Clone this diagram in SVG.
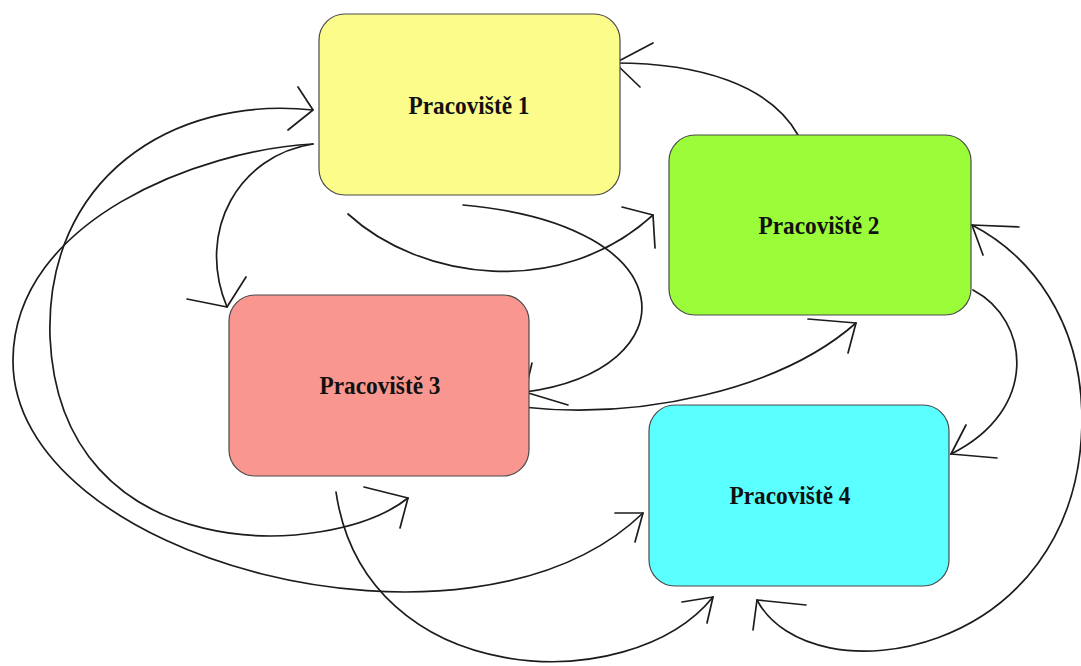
<svg xmlns="http://www.w3.org/2000/svg" width="1081" height="666" viewBox="0 0 1081 666">
  <style>
    .box { stroke: #4a4a4a; stroke-width: 1.2; }
    .label { font-family: "Liberation Serif", "Times New Roman", serif; font-weight: bold; font-size: 25px; fill: #111; text-anchor: middle; }
    .edge { fill: none; stroke: #1c1c1c; stroke-width: 1.7; stroke-linecap: round; stroke-linejoin: round; }
  </style>
  <rect width="1081" height="666" fill="#ffffff"/>

  <g id="connectors">
    <!-- Pracoviště 2 -> Pracoviště 1 -->
    <path class="edge" d="M798,135 C770,85 700,63 615,63"/>
    <polyline class="edge" points="653,43 615,63 640,87"/>

    <!-- Pracoviště 1 -> Pracoviště 2 -->
    <path class="edge" d="M348,214 C420,280 560,300 653,215"/>
    <polyline class="edge" points="622,207 653,215 655,248"/>

    <!-- Pracoviště 1 -> Pracoviště 3 (right side) -->
    <path class="edge" d="M463,205 C690,225 690,370 525,392"/>
    <polyline class="edge" points="532,363 525,392 568,405"/>

    <!-- Pracoviště 3 -> Pracoviště 2 -->
    <path class="edge" d="M522,407 C640,420 780,390 856,323"/>
    <polyline class="edge" points="808,319 856,323 848,353"/>

    <!-- Pracoviště 1 -> Pracoviště 3 (top) -->
    <path class="edge" d="M313,144 C240,155 195,230 227,307"/>
    <polyline class="edge" points="246,277 227,307 187,299"/>

    <!-- Pracoviště 1 <-> Pracoviště 3 (left loop) -->
    <path class="edge" d="M408,498 C330,560 60,570 50,337 C45,180 170,95 313,110"/>
    <polyline class="edge" points="298,87 313,110 288,130"/>
    <polyline class="edge" points="364,487 408,498 400,528"/>

    <!-- Pracoviště 1 -> Pracoviště 4 (outer loop) -->
    <path class="edge" d="M313,144 C200,150 15,220 13,359 C10,560 470,680 643,513"/>
    <polyline class="edge" points="615,513 643,513 635,542"/>

    <!-- Pracoviště 3 -> Pracoviště 4 -->
    <path class="edge" d="M336,492 C365,690 630,700 713,597"/>
    <polyline class="edge" points="682,602 713,597 707,623"/>

    <!-- Pracoviště 2 -> Pracoviště 4 -->
    <path class="edge" d="M973,290 C1030,320 1040,410 951,454"/>
    <polyline class="edge" points="966,425 951,454 997,458"/>

    <!-- Pracoviště 4 <-> Pracoviště 2 (right loop) -->
    <path class="edge" d="M757,600 C810,700 1080,660 1082,420 C1082,320 1030,255 972,225"/>
    <polyline class="edge" points="1019,227 972,225 983,255"/>
    <polyline class="edge" points="806,605 757,600 753,630"/>
  </g>

  <g id="node-pracoviste-1">
    <rect class="box" x="319" y="14" width="301" height="181" rx="26" fill="#FCFC8B"/>
    <text class="label" x="469" y="114" textLength="121" lengthAdjust="spacingAndGlyphs">Pracoviště 1</text>
  </g>
  <g id="node-pracoviste-2">
    <rect class="box" x="669" y="135" width="302" height="180" rx="26" fill="#9BFC39"/>
    <text class="label" x="819" y="234" textLength="121" lengthAdjust="spacingAndGlyphs">Pracoviště 2</text>
  </g>
  <g id="node-pracoviste-3">
    <rect class="box" x="229" y="295" width="300" height="181" rx="26" fill="#F8968F"/>
    <text class="label" x="380" y="394" textLength="121" lengthAdjust="spacingAndGlyphs">Pracoviště 3</text>
  </g>
  <g id="node-pracoviste-4">
    <rect class="box" x="649" y="405" width="300" height="181" rx="26" fill="#5AFFFF"/>
    <text class="label" x="790" y="504" textLength="121" lengthAdjust="spacingAndGlyphs">Pracoviště 4</text>
  </g>
</svg>
